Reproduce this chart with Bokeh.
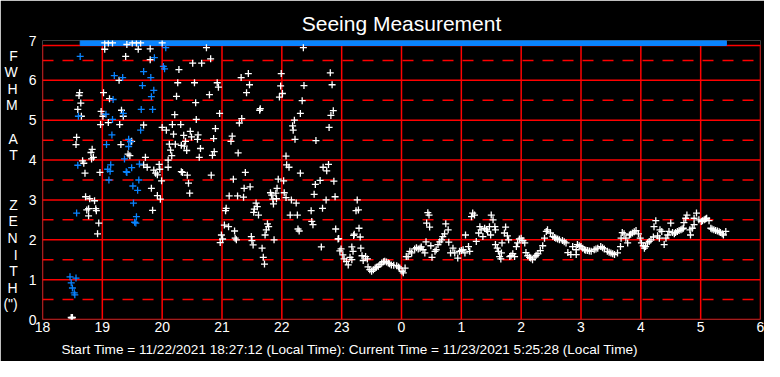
from bokeh.plotting import figure
from bokeh.models import Range1d, FixedTicker, Title
from bokeh.embed import file_html
from bokeh.resources import INLINE

# ---------------- data ----------------
# hours after midnight of the start day (24 = 0h next day)
white_t_evening = [19.04, 19.39, 19.60, 19.80, 19.80, 20.28, 19.28, 20.26, 18.62, 18.61,
                   19.02, 19.12, 20.24, 18.64, 18.59, 18.65, 18.98, 19.01, 19.10, 18.97,
                   19.32, 19.35, 19.29, 20.21, 19.69, 20.00, 20.07, 20.17, 20.31, 20.19,
                   18.57, 18.56, 19.31, 19.49, 20.12, 20.22, 20.32, 18.83, 18.81, 18.85,
                   19.43, 19.46, 19.72, 20.14, 20.16, 18.67, 18.69, 18.82, 19.69, 19.75,
                   19.95, 20.10, 20.10, 19.86, 19.89, 19.92, 19.96, 18.71, 18.96, 20.32,
                   19.99, 19.82, 18.72, 18.79, 18.87, 19.92, 19.97, 18.74, 18.77, 18.89,
                   18.90, 18.77, 19.84, 18.94, 18.92, 18.48, 18.49, 18.50]
white_v_evening = [6.78, 6.60, 6.78, 6.79, 6.52, 6.27, 6.00, 5.94, 5.69, 5.62,
                   5.69, 5.54, 5.60, 5.43, 5.27, 5.10, 5.22, 5.10, 4.94, 4.89,
                   5.25, 5.10, 4.89, 5.14, 4.88, 4.82, 4.75, 4.89, 4.89, 4.65,
                   4.57, 4.39, 4.39, 4.47, 4.40, 4.40, 4.37, 4.27, 4.19, 4.07,
                   4.15, 4.11, 4.07, 4.25, 4.11, 3.98, 3.92, 4.03, 3.88, 3.82,
                   3.89, 4.00, 3.82, 3.75, 3.67, 3.63, 3.77, 3.67, 3.69, 3.71,
                   3.48, 3.29, 3.08, 3.03, 2.98, 3.11, 3.02, 2.75, 2.78, 2.78,
                   2.73, 2.60, 2.74, 2.42, 2.15, 0.05, 0.04, 0.05]

white_t_top = [19.04, 19.10, 19.17, 19.41, 19.50, 19.57, 19.64, 20.00]
white_v_top = [6.94, 6.94, 6.94, 6.90, 6.94, 6.94, 6.94, 6.94]

white_t_night = [20.74, 20.51, 20.66, 20.81, 20.54, 20.92, 20.94, 21.32, 21.44, 21.46,
                 21.99, 21.98, 22.01, 21.96, 21.41, 20.79, 20.56, 21.64, 21.63, 20.96,
                 20.57, 21.33, 21.29, 22.21, 22.18, 22.19, 22.31, 20.89, 20.36, 20.47,
                 20.49, 20.60, 20.59, 20.39, 20.37, 20.41, 20.86, 21.17, 21.15, 22.22,
                 20.64, 20.87, 20.84, 20.62, 21.27, 22.07, 22.08, 22.12, 20.34, 20.42,
                 20.82, 21.39, 22.31, 21.19, 20.44, 21.94, 22.03, 21.37, 21.47, 20.46,
                 21.12, 21.26, 21.36, 21.81, 21.83, 21.90, 21.92, 21.85, 21.91, 22.04,
                 22.07, 22.24, 21.57, 21.59, 21.54, 21.53, 21.61, 21.86, 21.07, 21.06,
                 22.14, 22.26, 21.76, 21.78, 21.74, 21.72, 22.27, 22.29, 21.04, 21.11,
                 21.21, 20.99, 21.01, 20.97, 21.22, 21.24, 21.49, 21.50, 21.52, 21.87,
                 21.67, 21.69, 21.71]
white_v_night = [6.82, 6.43, 6.43, 6.54, 5.94, 5.94, 5.83, 6.07, 6.17, 5.89,
                 6.17, 5.86, 5.67, 5.58, 5.69, 5.64, 5.44, 5.29, 5.25, 5.17,
                 5.02, 5.04, 4.93, 5.00, 4.86, 4.75, 5.17, 4.79, 4.62, 4.72,
                 4.58, 4.63, 4.52, 4.47, 4.35, 4.24, 4.54, 4.60, 4.47, 4.52,
                 4.29, 4.21, 4.12, 4.07, 4.18, 4.10, 3.88, 3.82, 3.69, 3.62,
                 3.62, 3.69, 3.67, 3.52, 3.42, 3.52, 3.48, 3.29, 3.33, 3.17,
                 3.10, 3.10, 3.07, 3.18, 3.12, 3.17, 3.29, 3.02, 3.03, 3.18,
                 3.06, 2.92, 2.92, 2.83, 2.77, 2.69, 2.62, 2.90, 2.79, 2.73,
                 2.62, 2.62, 2.40, 2.33, 2.25, 2.12, 2.27, 2.22, 2.37, 2.33,
                 2.22, 2.12, 2.02, 1.93, 2.04, 2.00, 2.08, 1.98, 1.87, 2.00,
                 1.79, 1.56, 1.39]

white_t_late = [22.36, 22.81, 22.84, 22.37, 22.34, 22.86, 22.82, 22.79, 22.57, 22.78,
                22.69, 22.75, 22.64, 22.56, 22.87, 22.54, 22.89, 22.16, 22.74, 23.26,
                22.68, 22.49, 23.24, 23.28, 22.50, 22.52, 22.90, 23.29, 23.21, 23.20,
                23.31, 22.94, 22.95, 22.66, 22.99, 22.97, 23.02, 23.04, 23.08, 23.11,
                23.14, 23.17, 23.17, 23.19, 23.32, 23.34, 23.40, 23.43, 23.36]
white_v_late = [6.82, 6.19, 5.89, 5.87, 5.49, 5.24, 5.12, 4.82, 4.49, 3.89,
                3.82, 3.73, 3.49, 3.39, 3.47, 3.14, 3.08, 3.00, 3.00, 3.00,
                2.79, 2.73, 2.73, 2.75, 2.46, 2.38, 2.27, 2.29, 2.14, 2.11,
                2.07, 2.02, 2.03, 1.82, 1.77, 1.72, 1.62, 1.52, 1.46, 1.37,
                1.56, 1.50, 1.82, 1.71, 1.79, 1.60, 1.58, 1.52, 1.48]

white_t_morning = [23.44, 23.47, 23.50, 23.53, 23.56, 23.58, 23.61, 23.64, 23.67, 23.70,
                   23.72, 23.75, 23.78, 23.80, 23.83, 23.87, 23.92, 23.95, 23.97, 24.01,
                   24.03, 24.06, 24.08, 24.11, 24.14, 24.17, 24.22, 24.25, 24.28, 24.31,
                   24.33, 24.36, 24.39, 24.44, 24.46, 24.42, 24.47, 24.41, 24.49, 24.51,
                   24.56, 24.58, 24.61, 24.64, 24.67, 24.69, 24.72, 24.74, 24.78, 24.79,
                   24.82, 24.86, 24.89, 24.94, 24.97, 25.00, 25.03, 25.06, 25.07, 25.12,
                   25.14, 25.17, 25.19, 25.22, 25.25, 25.29, 25.31, 25.33, 25.36, 25.39,
                   25.42, 25.44, 25.47, 25.49, 25.50, 25.53, 25.56, 25.57, 25.57, 25.60,
                   25.62, 25.64, 25.66, 25.67, 25.68, 25.72, 25.74, 25.77, 25.79, 25.81,
                   25.83, 25.86, 25.89, 25.92, 25.94, 25.97, 26.00, 26.03, 26.06, 26.08,
                   26.11, 26.14, 26.16, 26.19, 26.23, 26.25, 26.28, 26.32, 26.36, 26.39,
                   26.42, 26.44, 26.49, 26.53, 26.56, 26.58, 26.61, 26.64, 26.69, 26.72,
                   26.75, 26.78, 26.83, 26.86, 26.92, 26.92, 26.94, 26.97, 27.00, 27.03,
                   27.06, 27.08, 27.11, 27.14, 27.17, 27.22, 27.25, 27.28, 27.33, 27.36,
                   27.39, 27.44, 27.47, 27.50, 27.53, 27.56, 27.61, 27.66, 27.67, 27.69,
                   27.72, 27.75, 27.78, 27.81, 27.83, 27.86, 27.89, 27.92, 27.96, 27.99,
                   28.01, 28.04, 28.06, 28.08, 28.11, 28.14, 28.17, 28.21, 28.22, 28.25,
                   28.28, 28.31, 28.32, 28.35, 28.39, 28.42, 28.45, 28.47, 28.50, 28.53,
                   28.56, 28.58, 28.61, 28.64, 28.67, 28.69, 28.71, 28.72, 28.75, 28.77,
                   28.82, 28.83, 28.86, 28.89, 28.89, 28.93, 28.97, 29.01, 29.03, 29.06,
                   29.08, 29.10, 29.14, 29.17, 29.19, 29.22, 29.25, 29.28, 29.31, 29.33,
                   29.36, 29.38, 29.42]
white_v_morning = [1.32, 1.25, 1.21, 1.25, 1.29, 1.31, 1.33, 1.38, 1.42, 1.45,
                   1.46, 1.44, 1.42, 1.40, 1.37, 1.36, 1.35, 1.32, 1.29, 1.21,
                   1.17, 1.29, 1.58, 1.58, 1.71, 1.67, 1.77, 1.80, 1.77, 1.79,
                   1.82, 1.75, 1.67, 2.68, 2.62, 2.42, 2.32, 1.95, 1.85, 1.56,
                   1.71, 1.75, 1.88, 1.95, 2.00, 2.08, 2.15, 2.40, 2.25, 1.94,
                   1.67, 1.79, 1.67, 1.54, 1.71, 1.73, 1.75, 1.67, 2.12, 1.83,
                   1.71, 2.58, 2.67, 2.62, 1.96, 2.17, 2.33, 2.25, 2.08, 2.29,
                   2.25, 2.21, 2.33, 2.12, 2.62, 2.50, 2.33, 2.25, 1.88, 1.79,
                   1.71, 1.58, 1.52, 1.67, 1.92, 2.17, 2.32, 2.10, 2.00, 1.58,
                   1.60, 1.65, 1.58, 1.83, 1.92, 2.02, 2.04, 1.98, 1.92, 1.68,
                   1.60, 1.56, 1.54, 1.50, 1.57, 1.61, 1.65, 1.73, 1.85, 2.04,
                   2.21, 2.25, 2.17, 2.08, 2.06, 2.04, 2.02, 2.00, 1.98, 1.95,
                   1.92, 1.68, 1.63, 1.83, 1.75, 1.63, 1.88, 1.85, 1.83, 1.79,
                   1.75, 1.74, 1.73, 1.72, 1.71, 1.75, 1.77, 1.79, 1.83, 1.80,
                   1.77, 1.71, 1.69, 1.67, 1.65, 1.63, 1.67, 1.83, 2.04, 2.18,
                   2.15, 2.04, 1.92, 2.12, 2.14, 2.17, 2.20, 2.23, 2.15, 2.04,
                   1.92, 1.85, 1.79, 1.83, 1.92, 1.96, 2.00, 2.07, 2.33, 2.48,
                   2.10, 2.04, 2.25, 2.21, 1.88, 2.04, 2.12, 2.21, 2.42, 2.18,
                   2.15, 2.18, 2.21, 2.23, 2.25, 2.27, 2.29, 2.43, 2.54, 2.62,
                   2.25, 2.12, 2.29, 2.38, 2.54, 2.67, 2.50, 2.46, 2.48, 2.50,
                   2.52, 2.54, 2.48, 2.29, 2.27, 2.25, 2.23, 2.22, 2.20, 2.18,
                   2.15, 2.12, 2.21]

blue_t = [18.63, 20.06, 19.87, 20.02, 20.04, 19.69, 19.20, 19.34, 19.81, 19.67,
          19.86, 19.82, 19.18, 19.65, 19.84, 19.06, 19.35, 19.17, 18.60, 19.64,
          19.16, 19.44, 19.47, 19.07, 19.44, 19.37, 18.59, 19.14, 19.09, 19.13,
          19.49, 19.62, 19.40, 19.41, 19.11, 19.61, 19.51, 19.59, 19.52, 18.57,
          19.57, 19.54, 19.56, 18.46, 18.56, 18.48, 18.50, 18.53, 18.54]
blue_v = [6.60, 6.82, 6.57, 6.35, 6.29, 6.22, 6.12, 6.07, 6.07, 5.87,
          5.75, 5.59, 5.52, 5.27, 5.27, 5.15, 5.17, 5.02, 5.10, 4.75,
          4.63, 4.52, 4.46, 4.39, 4.34, 4.03, 3.87, 3.88, 3.77, 3.72,
          3.81, 3.90, 3.71, 3.69, 3.50, 3.50, 3.35, 3.24, 2.92, 2.67,
          2.58, 2.44, 2.42, 1.07, 1.04, 0.92, 0.79, 0.67, 0.62]

# blue values off the top of the scale (>= 7) over this span
blue_top_start = [18.63]
blue_top_end = [29.43]

x_ticks = list(range(18, 31))
y_ticks = list(range(0, 8))
y_dashed = [0.5, 1.5, 2.5, 3.5, 4.5, 5.5, 6.5]
y_solid = [1, 2, 3, 4, 5, 6]
x_solid = list(range(19, 30))
frame_top = 6.875
y_axis_title = "F\nW\nH\nM\n \nA\nT\n \n \nZ\nE\nN\nI\nT\nH\n(\")"

title_text = "Seeing Measurement"
footer_text = "Start Time = 11/22/2021 18:27:12 (Local Time): Current Time = 11/23/2021 5:25:28 (Local Time)"

# ---------------- figure ----------------
RED = "#FF0000"
BLUE = "#0A84FF"
NARROW = "'Liberation Sans Narrow', 'Arial Narrow', 'Liberation Sans', sans-serif"

p = figure(width=764, height=361, output_backend="svg", toolbar_location=None,
           x_range=Range1d(18, 30), y_range=Range1d(0, 7),
           min_border_left=40, min_border_right=4, min_border_top=40, min_border_bottom=41,
           background_fill_color="black", border_fill_color="black")
p.outline_line_color = None
p.xgrid.visible = False
p.ygrid.visible = False

p.title.text = title_text
p.title.align = "center"
p.title.text_color = "white"
p.title.text_font = "Liberation Sans"
p.title.text_font_style = "normal"
p.title.text_font_size = "21px"
p.title.standoff = 12
p.title.offset = -9

for ax in (p.xaxis[0], p.yaxis[0]):
    ax.axis_line_color = None
    ax.major_tick_line_color = None
    ax.minor_tick_line_color = None
    ax.major_tick_out = 0
    ax.major_tick_in = 0
    ax.major_label_text_color = "white"
    ax.major_label_text_font = NARROW
    ax.major_label_text_font_size = "14px"

p.xaxis[0].ticker = FixedTicker(ticks=x_ticks)
p.xaxis[0].major_label_overrides = {t: str(t % 24) for t in x_ticks}
p.xaxis[0].major_label_standoff = 2
p.yaxis[0].ticker = FixedTicker(ticks=y_ticks)
p.yaxis[0].major_label_standoff = 6
p.yaxis[0].axis_label = y_axis_title
p.yaxis[0].axis_label_orientation = "horizontal"
p.yaxis[0].axis_label_text_color = "white"
p.yaxis[0].axis_label_text_font = "Liberation Sans"
p.yaxis[0].axis_label_text_font_style = "normal"
p.yaxis[0].axis_label_text_font_size = "14px"
p.yaxis[0].axis_label_text_line_height = 1.035
p.yaxis[0].axis_label_text_align = "center"
p.yaxis[0].axis_label_standoff = 8

footer = Title(text=footer_text, align="left", offset=19, standoff=10,
               text_color="white", text_font=NARROW, text_font_style="normal",
               text_font_size="13.6px", text_line_height=0.6)
p.add_layout(footer, "below")

# grid
p.segment(x0=x_solid, y0=[0] * len(x_solid), x1=x_solid, y1=[frame_top] * len(x_solid),
          line_color=RED, line_width=1.5)
p.segment(x0=[18] * len(y_solid), y0=y_solid, x1=[30] * len(y_solid), y1=y_solid,
          line_color=RED, line_width=1.5)
p.segment(x0=[18] * len(y_dashed), y0=y_dashed, x1=[30] * len(y_dashed), y1=y_dashed,
          line_color=RED, line_width=1.5, line_dash="11 9")
# frame
p.quad(left=[18], right=[30], bottom=[0], top=[frame_top], fill_color=None,
       line_color=RED, line_width=1.5)

# top overflow bar
p.quad(left=blue_top_start, right=blue_top_end, bottom=[frame_top], top=[7],
       fill_color=BLUE, line_color=BLUE)

wt = white_t_evening + white_t_top + white_t_night + white_t_late + white_t_morning
wv = white_v_evening + white_v_top + white_v_night + white_v_late + white_v_morning
p.scatter(wt, wv, marker="cross", size=7, line_color="white", line_width=1.3)
p.scatter(blue_t, blue_v, marker="cross", size=7, line_color=BLUE, line_width=1.3)

open("out.html", "w").write(file_html(p, INLINE))
